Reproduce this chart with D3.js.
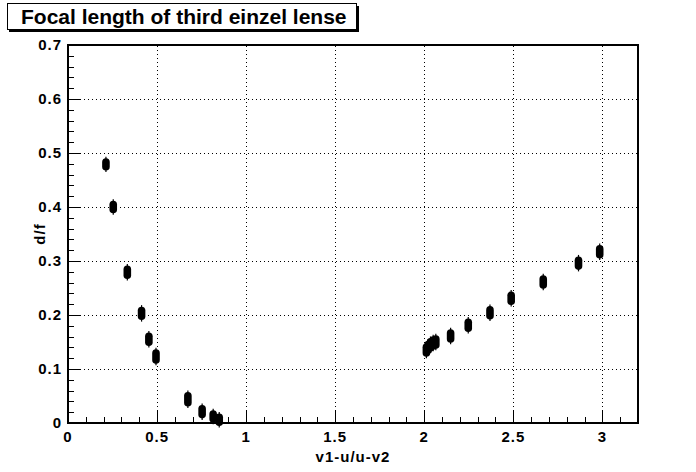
<!DOCTYPE html>
<html><head><meta charset="utf-8">
<script src="https://cdn.jsdelivr.net/npm/d3@7"></script>
<style>body{margin:0;background:#fff;} svg{display:block;}</style>
</head><body>
<svg id="c" width="696" height="472"></svg>
<script>
const titleText = "Focal length of third einzel lense";
const xTitle = "v1-u/u-v2";
const yTitle = "d/f";
const xValues = [0.213,0.254,0.333,0.413,0.454,0.494,0.673,0.753,0.815,0.849,
                 2.012,2.022,2.035,2.05,2.065,2.148,2.247,2.369,2.488,2.668,2.866,2.985];
const yValues = [0.479,0.400,0.279,0.203,0.155,0.123,0.044,0.021,0.012,0.006,
                 0.135,0.140,0.145,0.148,0.150,0.161,0.181,0.204,0.231,0.261,0.296,0.317];
const yErrors = [0.005,0.005,0.006,0.006,0.006,0.007,0.007,0.006,0.005,0.005,
                 0.006,0.006,0.006,0.006,0.006,0.006,0.006,0.006,0.006,0.006,0.006,0.006];
const xTicks = [0,0.5,1,1.5,2,2.5,3];
const xTickLabels = ["0","0.5","1","1.5","2","2.5","3"];
const yTicks = [0,0.1,0.2,0.3,0.4,0.5,0.6,0.7];
const yTickLabels = ["0","0.1","0.2","0.3","0.4","0.5","0.6","0.7"];
const xDomain = [0,3.2];
const yDomain = [0,0.7];

const svg = d3.select("#c");
const L=68, R=638, T=45, B=423;
const x = d3.scaleLinear().domain(xDomain).range([L,R]);
const y = d3.scaleLinear().domain(yDomain).range([B,T]);
const font = "'Liberation Sans', Arial, Helvetica, sans-serif";

// grid
const g = svg.append("g");
g.selectAll("line.gx").data(xTicks.filter(v=>v>0)).enter().append("line")
  .attr("x1",d=>Math.round(x(d))+0.5).attr("x2",d=>Math.round(x(d))+0.5).attr("y1",B).attr("y2",T)
  .attr("stroke","#000").attr("stroke-width",1).attr("stroke-dasharray","1,3");
g.selectAll("line.gy").data(yTicks.filter(v=>v>0&&v<0.7)).enter().append("line")
  .attr("x1",L).attr("x2",R).attr("y1",d=>Math.round(y(d))+0.5).attr("y2",d=>Math.round(y(d))+0.5)
  .attr("stroke","#000").attr("stroke-width",1).attr("stroke-dasharray","1,3");

// ticks
const xMinor = d3.range(0,32).map(i=>i/10);
svg.append("g").selectAll("line").data(xMinor).enter().append("line")
  .attr("x1",d=>Math.round(x(d))+0.5).attr("x2",d=>Math.round(x(d))+0.5)
  .attr("y1",B).attr("y2",(d,i)=>B-(i%5===0?12:6))
  .attr("stroke","#000").attr("stroke-width",1);
const yMinor = d3.range(0,36).map(i=>i*0.02);
svg.append("g").selectAll("line").data(yMinor).enter().append("line")
  .attr("y1",d=>Math.round(y(d))+0.5).attr("y2",d=>Math.round(y(d))+0.5)
  .attr("x1",L).attr("x2",(d,i)=>L+(i%5===0?12:6))
  .attr("stroke","#000").attr("stroke-width",1);

// frame
svg.append("rect").attr("x",L).attr("y",T).attr("width",R-L).attr("height",B-T)
  .attr("fill","none").attr("stroke","#000").attr("stroke-width",2);

// tick labels
svg.append("g").selectAll("text").data(xTicks).enter().append("text")
  .attr("x",d=>x(d)).attr("y",B+19).attr("text-anchor","middle")
  .attr("font-family",font).attr("font-weight","bold").attr("font-size",15)
  .attr("letter-spacing",1)
  .text((d,i)=>xTickLabels[i]);
svg.append("g").selectAll("text").data(yTicks).enter().append("text")
  .attr("x",L-6).attr("y",d=>y(d)+5).attr("text-anchor","end")
  .attr("font-family",font).attr("font-weight","bold").attr("font-size",15)
  .attr("letter-spacing",1)
  .text((d,i)=>yTickLabels[i]);

// axis titles
svg.append("text").attr("x",(L+R)/2).attr("y",462).attr("text-anchor","middle")
  .attr("font-family",font).attr("font-weight","bold").attr("font-size",15)
  .attr("letter-spacing",1).text(xTitle);
svg.append("text").attr("transform",`translate(45,${(T+B)/2}) rotate(-90)`)
  .attr("text-anchor","middle")
  .attr("font-family",font).attr("font-weight","bold").attr("font-size",15)
  .attr("letter-spacing",1).text(yTitle);

// data points
const pts = xValues.map((v,i)=>({x:v,y:yValues[i],e:yErrors[i]}));
const pg = svg.append("g");
pg.selectAll("line").data(pts).enter().append("line")
  .attr("x1",d=>x(d.x)).attr("x2",d=>x(d.x))
  .attr("y1",d=>y(d.y+d.e)-5).attr("y2",d=>y(d.y-d.e)+5)
  .attr("stroke","#000").attr("stroke-width",1.2);
pg.selectAll("rect").data(pts).enter().append("rect")
  .attr("x",d=>x(d.x)-3.8).attr("width",7.6)
  .attr("y",d=>y(d.y+d.e)-3.5).attr("height",d=>y(d.y-d.e)-y(d.y+d.e)+7)
  .attr("rx",3.8).attr("ry",3.8)
  .attr("fill","#000");

// title box
svg.append("rect").attr("x",9).attr("y",6).attr("width",350).attr("height",26).attr("fill","#000");
svg.append("rect").attr("x",7.5).attr("y",3.5).attr("width",349).attr("height",26)
  .attr("fill","#fff").attr("stroke","#000").attr("stroke-width",1);
svg.append("text").attr("x",21).attr("y",24).attr("font-family",font)
  .attr("font-weight","bold").attr("font-size",21).text(titleText);
</script>
</body></html>
